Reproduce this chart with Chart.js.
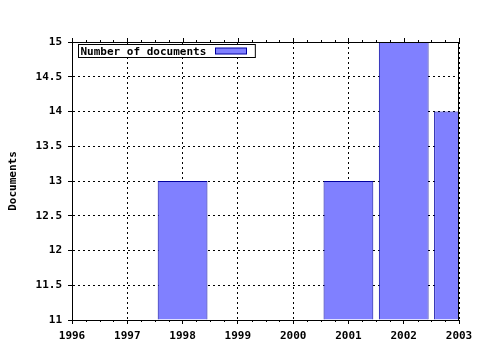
<!DOCTYPE html>
<html>
<head>
<meta charset="utf-8">
<script src="https://cdn.jsdelivr.net/npm/chart.js@4"></script>
<style>
html, body { margin: 0; padding: 0; background: #fff; }
#wrap { width: 480px; height: 350px; }
</style>
</head>
<body>
<div id="wrap"><canvas id="docChart" width="480" height="350"></canvas></div>
<script>
// data
const years = [1998, 2001, 2002, 2003];
const docCounts = [13, 13, 15, 14];
const seriesLabel = 'Number of documents';
const yearRange = [1996, 2003];
const countRange = [11, 15];
const countStep = 0.5;
const axisTitle = 'Documents';

const monoFont = { family: "'DejaVu Sans Mono', monospace", size: 11, weight: 'bold' };

// frame on top/right, minor ticks, and the gnuplot-style legend box
const gnuFrame = {
    id: 'gnuFrame',
    afterDatasetsDraw(chart) {
        const { ctx, chartArea: a, scales: { x } } = chart;
        ctx.save();
        ctx.strokeStyle = '#000';
        ctx.lineWidth = 1;
        ctx.beginPath();
        ctx.moveTo(a.left, Math.round(a.top) + 0.5);
        ctx.lineTo(a.right, Math.round(a.top) + 0.5);
        ctx.moveTo(Math.round(a.right) - 0.5, a.top);
        ctx.lineTo(Math.round(a.right) - 0.5, a.bottom);
        // ticks on x axis, mirrored on top
        for (let v = yearRange[0]; v <= yearRange[1] + 1e-9; v += 0.25) {
            const px = Math.round(x.getPixelForValue(v)) + 0.5;
            const major = Math.abs(v - Math.round(v)) < 1e-9;
            const len = major ? 4 : 2;
            ctx.moveTo(px, a.top);
            ctx.lineTo(px, a.top - len);
            if (!major) {
                ctx.moveTo(px, a.bottom);
                ctx.lineTo(px, a.bottom + len);
            }
        }
        ctx.stroke();

        // legend
        const ds = chart.data.datasets[0];
        ctx.font = `bold ${monoFont.size}px ${monoFont.family}`;
        const tw = ctx.measureText(ds.label).width;
        const bx = Math.round(a.left) + 6.5, by = Math.round(a.top) + 2.5;
        const sw = 31, sh = 6;
        const bw = tw + sw + 20, bh = 13;
        ctx.fillStyle = '#fff';
        ctx.fillRect(bx, by, bw, bh);
        ctx.strokeRect(bx, by, bw, bh);
        ctx.fillStyle = '#000';
        ctx.textBaseline = 'middle';
        ctx.fillText(ds.label, bx + 2, by + bh / 2 + 1);
        const sx = Math.round(bx + tw + 11) + 0.5;
        ctx.fillStyle = ds.backgroundColor;
        ctx.fillRect(sx, by + 3.5, sw, sh);
        ctx.strokeStyle = ds.borderColor;
        ctx.strokeRect(sx, by + 3.5, sw, sh);
        ctx.restore();
    }
};

new Chart(document.getElementById('docChart'), {
    type: 'bar',
    data: {
        datasets: [{
            label: seriesLabel,
            data: years.map((yr, i) => ({ x: yr, y: docCounts[i] })),
            backgroundColor: '#8080ff',
            borderColor: '#0000a0',
            borderWidth: 1,
            base: countRange[0],
            categoryPercentage: 1,
            barPercentage: 0.9
        }]
    },
    options: {
        responsive: false,
        animation: false,
        layout: { padding: { top: 42, right: 21, left: 0, bottom: 0 } },
        plugins: {
            legend: { display: false },
            tooltip: { enabled: false }
        },
        scales: {
            x: {
                type: 'linear',
                offset: false,
                min: yearRange[0],
                max: yearRange[1],
                grid: { offset: false, color: '#000', tickLength: 4, tickColor: '#000' },
                border: { color: '#000', dash: [2, 3] },
                ticks: {
                    stepSize: 1,
                    color: '#000',
                    font: monoFont,
                    padding: 6,
                    maxRotation: 0,
                    callback: v => String(v)
                },
                afterFit: s => { s.height = 30; }
            },
            y: {
                min: countRange[0],
                max: countRange[1],
                beginAtZero: false,
                grid: { color: '#000', tickLength: 4, tickColor: '#000' },
                border: { color: '#000', dash: [2, 3] },
                ticks: {
                    stepSize: countStep,
                    color: '#000',
                    font: monoFont,
                    padding: 6,
                    callback: v => String(v)
                },
                title: {
                    display: true,
                    text: axisTitle,
                    color: '#000',
                    font: monoFont,
                    padding: { top: 7, bottom: 0 }
                },
                afterFit: s => { s.width = 72; }
            }
        }
    },
    plugins: [gnuFrame]
});
</script>
</body>
</html>
